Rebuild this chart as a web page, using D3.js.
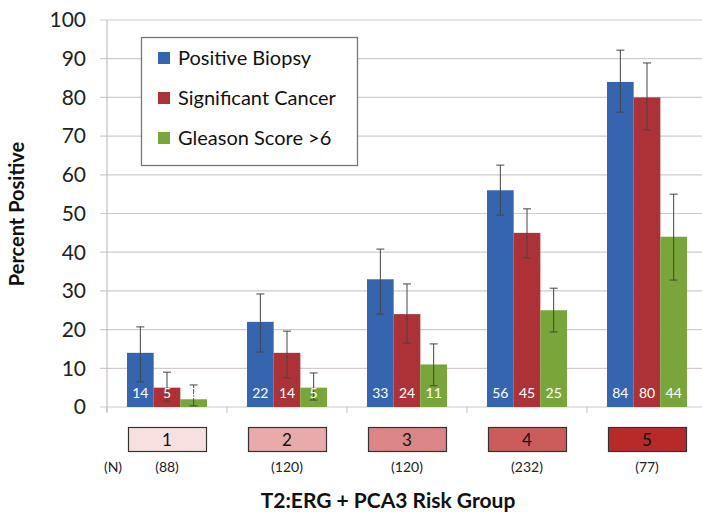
<!DOCTYPE html>
<html><head><meta charset="utf-8">
<script src="https://cdn.jsdelivr.net/npm/d3@7"></script>
<style>body{margin:0;background:#fff}svg{display:block}</style>
</head><body>
<svg id="c" width="702" height="512"></svg>
<script>
const groups = ["1","2","3","4","5"];
const groupN = ["(88)","(120)","(120)","(232)","(77)"];
const groupColors = ["#f9e0e0","#e8aaaa","#da8686","#cc5c5c","#b82a2a"];
const seriesNames = ["Positive Biopsy","Significant Cancer","Gleason Score >6"];
const seriesColors = ["#3565ae","#ad3237","#79a63b"];
const positiveBiopsy = [14,22,33,56,84];
const significantCancer = [5,14,24,45,80];
const gleason = [2,5,11,25,44];
const lowPositive = [6.5,14.2,24,49.6,76.2];
const highPositive = [20.7,29.2,40.8,62.5,92.2];
const lowSignificant = [1.5,7.5,16.5,38.5,71.6];
const highSignificant = [9.0,19.6,31.8,51.2,88.9];
const lowGleason = [0.3,1.8,5.5,19.4,32.8];
const highGleason = [5.7,8.8,16.3,30.7,55];
const yTicks = [0,10,20,30,40,50,60,70,80,90,100];

const series = [
  {name: seriesNames[0], values: positiveBiopsy, lo: lowPositive, hi: highPositive},
  {name: seriesNames[1], values: significantCancer, lo: lowSignificant, hi: highSignificant},
  {name: seriesNames[2], values: gleason, lo: lowGleason, hi: highGleason}
];

const svg = d3.select("#c");
const font = "Lato, 'Open Sans', sans-serif";
const x = d3.scaleBand().domain(groups).range([107, 707]).paddingInner(1/3).paddingOuter(1/6);
const xs = d3.scaleBand().domain([0,1,2]).range([0, x.bandwidth()]);
const y = d3.scaleLinear().domain([0,100]).range([407, 20]);

// gridlines
svg.append("g").selectAll("line").data(yTicks).join("line")
  .attr("x1", 100).attr("x2", 702)
  .attr("y1", d => y(d)).attr("y2", d => y(d))
  .attr("stroke", "#d3caca").attr("stroke-width", 1.2);
// y axis line
svg.append("line").attr("x1",107).attr("x2",107).attr("y1",y(100)).attr("y2",y(0)+5)
  .attr("stroke","#c8c0c0").attr("stroke-width",1.2);
// category ticks
svg.append("g").selectAll("line").data(d3.range(groups.length+1)).join("line")
  .attr("x1", i => 107 + i*x.step()).attr("x2", i => 107 + i*x.step())
  .attr("y1", y(0)).attr("y2", y(0)+6).attr("stroke","#c8c0c0");
// y tick labels
svg.append("g").selectAll("text").data(yTicks).join("text")
  .attr("x", 86).attr("y", d => y(d)).attr("dy","0.35em")
  .attr("text-anchor","end").attr("font-family",font).attr("font-size",21).attr("fill","#222")
  .text(d => d);
// y title
svg.append("text").attr("transform","translate(24,214) rotate(-90)")
  .attr("text-anchor","middle").attr("font-family",font).attr("font-weight","bold")
  .attr("font-size",20).attr("fill","#111").text("Percent Positive");

// bars
series.forEach((s, si) => {
  const g = svg.append("g");
  g.selectAll("rect").data(groups).join("rect")
    .attr("x", (d,i) => x(d) + xs(si)).attr("width", xs.bandwidth())
    .attr("y", (d,i) => y(s.values[i])).attr("height", (d,i) => y(0) - y(s.values[i]))
    .attr("fill", seriesColors[si]);
});
// error bars
series.forEach((s, si) => {
  const g = svg.append("g").attr("stroke","#444").attr("stroke-width",1);
  groups.forEach((d,i) => {
    const cx = x(d) + xs(si) + xs.bandwidth()/2;
    g.append("line").attr("x1",cx).attr("x2",cx).attr("y1",y(s.lo[i])).attr("y2",y(s.hi[i]));
    g.append("line").attr("x1",cx-4).attr("x2",cx+4).attr("y1",y(s.lo[i])).attr("y2",y(s.lo[i]));
    g.append("line").attr("x1",cx-4).attr("x2",cx+4).attr("y1",y(s.hi[i])).attr("y2",y(s.hi[i]));
  });
});
// value labels
series.forEach((s, si) => {
  svg.append("g").selectAll("text").data(groups).join("text")
    .attr("x", (d,i) => x(d) + xs(si) + xs.bandwidth()/2).attr("y", 393).attr("dy","0.35em")
    .attr("text-anchor","middle").attr("font-family",font).attr("font-size",14).attr("fill","#fff")
    .text((d,i) => s.values[i]);
});

// legend
const lg = svg.append("g");
lg.append("rect").attr("x",141.5).attr("y",37.5).attr("width",216).attr("height",128)
  .attr("fill","#fff").attr("stroke","#777").attr("stroke-width",1.3);
series.forEach((s, si) => {
  const ly = 58 + si*40;
  lg.append("rect").attr("x",158).attr("y",ly-6).attr("width",12).attr("height",12).attr("fill",seriesColors[si]);
  lg.append("text").attr("x",178).attr("y",ly).attr("dy","0.35em").attr("font-family",font)
    .attr("font-size",20).attr("fill","#111").text(s.name);
});

// group boxes
const bw = 78;
svg.append("g").selectAll("rect").data(groups).join("rect")
  .attr("x", d => x(d) + x.bandwidth()/2 - bw/2 + 0.5).attr("y", 427.5)
  .attr("width", bw).attr("height", 24)
  .attr("fill", (d,i) => groupColors[i]).attr("stroke","#333").attr("stroke-width",1.2);
svg.append("g").selectAll("text").data(groups).join("text")
  .attr("x", d => x(d) + x.bandwidth()/2).attr("y", 440).attr("dy","0.35em")
  .attr("text-anchor","middle").attr("font-family",font).attr("font-size",17).attr("fill","#111")
  .text(d => d);
svg.append("text").attr("x",113).attr("y",467).attr("dy","0.35em").attr("text-anchor","middle")
  .attr("font-family",font).attr("font-size",14).attr("fill","#222").text("(N)");
svg.append("g").selectAll("text").data(groups).join("text")
  .attr("x", d => x(d) + x.bandwidth()/2).attr("y", 467).attr("dy","0.35em")
  .attr("text-anchor","middle").attr("font-family",font).attr("font-size",14).attr("fill","#222")
  .text((d,i) => groupN[i]);
svg.append("text").attr("x",388).attr("y",501).attr("dy","0.35em").attr("text-anchor","middle")
  .attr("font-family",font).attr("font-weight","bold").attr("font-size",21).attr("fill","#111")
  .text("T2:ERG + PCA3 Risk Group");
</script>
</body></html>
